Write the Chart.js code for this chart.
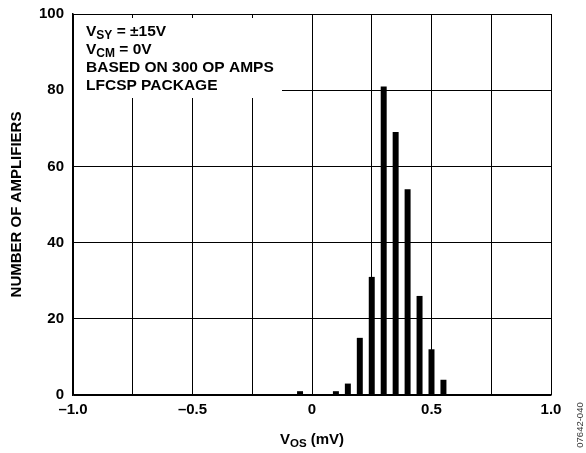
<!DOCTYPE html>
<html><head><meta charset="utf-8">
<script src="https://cdn.jsdelivr.net/npm/chart.js@4"></script>
<style>html,body{margin:0;padding:0;background:#fff}#wrap{width:586px;height:453px}</style>
</head><body><div id="wrap"><canvas id="c"></canvas></div>
<script>
const binCenters = [-0.05, 0.10, 0.15, 0.20, 0.25, 0.30, 0.35, 0.40, 0.45, 0.50, 0.55];
const counts = [1, 1, 3, 15, 31, 81, 69, 54, 26, 12, 4];
const xGridTicks = [-1.0, -0.75, -0.5, -0.25, 0, 0.25, 0.5, 0.75, 1.0];
const xLabeled = [-1.0, -0.5, 0, 0.5, 1.0];
const xTickText = ['\u20131.0', '\u20130.5', '0', '0.5', '1.0'];
const yTicks = [0, 20, 40, 60, 80, 100];
const notes = [['V', 'SY', ' = \u00b115V'], ['V', 'CM', ' = 0V'], ['BASED ON 300 OP AMPS', '', ''], ['LFCSP PACKAGE', '', '']];

const FONT = '"Liberation Sans", Arial, Helvetica, sans-serif';

const overlay = {
  id: 'overlay',
  afterDraw(chart) {
    const ctx = chart.ctx;
    const a = chart.chartArea;
    ctx.save();
    // annotation box
    ctx.fillStyle = '#fff';
    ctx.fillRect(a.left + 1, a.top + 4, 208, 80);
    ctx.fillStyle = '#000';
    ctx.textBaseline = 'alphabetic';
    let y = a.top + 22;
    const x0 = a.left + 13;
    notes.forEach(n => {
      let x = x0;
      ctx.font = 'bold 15.5px ' + FONT;
      ctx.fillText(n[0], x, y);
      x += ctx.measureText(n[0]).width;
      if (n[1]) {
        ctx.font = 'bold 12px ' + FONT;
        ctx.fillText(n[1], x, y + 3);
        x += ctx.measureText(n[1]).width;
        ctx.font = 'bold 15.5px ' + FONT;
        ctx.fillText(n[2], x, y);
      }
      y += 18;
    });
    // x title with subscript
    const t1 = 'V', t2 = 'OS', t3 = ' (mV)';
    ctx.font = 'bold 11.5px ' + FONT;
    const w2 = ctx.measureText(t2).width;
    ctx.font = 'bold 15px ' + FONT;
    const w1 = ctx.measureText(t1).width, w3 = ctx.measureText(t3).width;
    const cx = (a.left + a.right) / 2;
    let xx = cx - (w1 + w2 + w3) / 2;
    const ty = 444;
    ctx.fillText(t1, xx, ty); xx += w1;
    ctx.font = 'bold 11.5px ' + FONT;
    ctx.fillText(t2, xx, ty + 3); xx += w2;
    ctx.font = 'bold 15px ' + FONT;
    ctx.fillText(t3, xx, ty);
    // figure id
    ctx.translate(580, 425);
    ctx.rotate(-Math.PI / 2);
    ctx.font = '9.5px ' + FONT;
    ctx.fillStyle = '#333';
    ctx.textAlign = 'center';
    ctx.textBaseline = 'middle';
    ctx.fillText('07642-040', 0, 0);
    ctx.restore();
  }
};

new Chart(document.getElementById('c'), {
  type: 'bar',
  data: {
    datasets: [{
      data: binCenters.map((x, i) => ({x: x, y: counts[i]})),
      backgroundColor: '#000',
      borderWidth: 0,
      barPercentage: 0.5,
      categoryPercentage: 1.0
    }]
  },
  options: {
    responsive: true,
    maintainAspectRatio: false,
    animation: false,
    layout: {padding: {left: 0, top: 14, right: 35, bottom: 0}},
    plugins: {legend: {display: false}, tooltip: {enabled: false}},
    scales: {
      x: {
        type: 'linear', min: -1, max: 1, offset: false,
        afterFit(s) { s.height = 58; s.paddingLeft = 0; s.paddingRight = 0; },
        afterBuildTicks(s) { s.ticks = xGridTicks.map(v => ({value: v})); },
        ticks: {
          autoSkip: false, maxRotation: 0, padding: 6,
          color: '#000', font: {family: FONT, size: 15, weight: 'bold'},
          callback(v) { const i = xLabeled.findIndex(t => Math.abs(t - v) < 1e-9); return i >= 0 ? xTickText[i] : ''; }
        },
        grid: {color: '#000', lineWidth: 1, drawTicks: false, offset: false},
        border: {color: '#000', width: 1.5}
      },
      y: {
        min: 0, max: 100,
        afterFit(s) { s.width = 73; s.paddingTop = 0; s.paddingBottom = 0; },
        afterBuildTicks(s) { s.ticks = yTicks.map(v => ({value: v})); },
        ticks: {padding: 9, color: '#000', font: {family: FONT, size: 15, weight: 'bold'}},
        grid: {color: '#000', lineWidth: 1, drawTicks: false},
        border: {color: '#000', width: 1.5},
        title: {display: true, text: 'NUMBER OF AMPLIFIERS', color: '#000', font: {family: FONT, size: 15, weight: 'bold'}, padding: {top: 8, bottom: 0}}
      }
    }
  },
  plugins: [overlay]
});
</script></body></html>
